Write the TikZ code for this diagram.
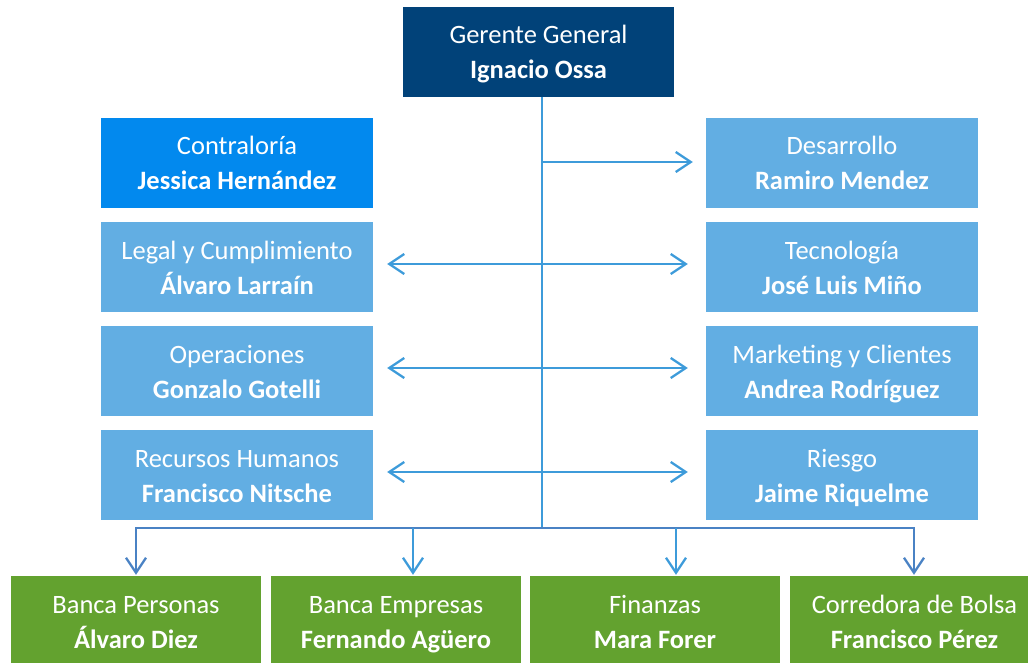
\documentclass[tikz,border=0pt]{standalone}
\usepackage{fontspec}
\setmainfont{Carlito}
\usetikzlibrary{arrows.meta}
\definecolor{navy}{RGB}{1,66,121}
\definecolor{bright}{RGB}{2,137,238}
\definecolor{light}{RGB}{98,174,227}
\definecolor{grn}{RGB}{99,162,47}
\definecolor{ln}{RGB}{61,155,218}
\definecolor{bus}{RGB}{74,130,196}
\newcommand\twoline[2]{\rule{0pt}{25pt}#1\\\rule[-6pt]{0pt}{6pt}\textbf{#2}}
\tikzset{
  box/.style={inner sep=0pt, text=white, align=center, minimum height=90pt,
    font=\fontsize{26.5}{35}\selectfont},
  dept/.style={box, fill=light, minimum width=272pt},
  unit/.style={box, fill=grn, minimum width=250pt},
  conn/.style={draw=ln, line width=2.3pt},
  busline/.style={draw=bus, line width=2.3pt},
  tip/.style={-{Straight Barb[length=15pt,width=20pt,line width=2.3pt]}},
  tips/.style={{Straight Barb[length=15pt,width=20pt,line width=2.3pt]}-{Straight Barb[length=15pt,width=20pt,line width=2.3pt]}}
}
\begin{document}
\begin{tikzpicture}[x=1pt,y=-1pt]
\useasboundingbox (0,0) rectangle (1028,663);
% top
\node[box, fill=navy, minimum width=271pt] (gg) at (538.5,52) {\twoline{Gerente General}{Ignacio Ossa}};
% left column
\node[box, fill=bright, minimum width=272pt] (con) at (237,163) {\twoline{Contraloría}{Jessica Hernández}};
\node[dept] (leg) at (237,267) {\twoline{Legal y Cumplimiento}{Álvaro Larraín}};
\node[dept] (ope) at (237,371) {\twoline{Operaciones}{Gonzalo Gotelli}};
\node[dept] (rrh) at (237,475) {\twoline{Recursos Humanos}{Francisco Nitsche}};
% right column
\node[dept] (des) at (842,163) {\twoline{Desarrollo}{Ramiro Mendez}};
\node[dept] (tec) at (842,267) {\twoline{Tecnología}{José Luis Miño}};
\node[dept] (mkt) at (842,371) {\twoline{Marketing y Clientes}{Andrea Rodríguez}};
\node[dept] (rie) at (842,475) {\twoline{Riesgo}{Jaime Riquelme}};
% bottom
\node[unit] (bp) at (136,621) {\twoline{Banca Personas}{Álvaro Diez}};
\node[unit] (be) at (396,621) {\twoline{Banca Empresas}{Fernando Agüero}};
\node[unit] (fin) at (655,621) {\twoline{Finanzas}{Mara Forer}};
\node[unit] (cb) at (914.5,621) {\twoline{Corredora de Bolsa}{Francisco Pérez}};
% spine
\coordinate (s0) at (542,97);
\coordinate (s1) at (542,528);
\coordinate (bl) at (136,528);
\coordinate (br) at (914,528);
\coordinate (b2) at (413,528);
\coordinate (b3) at (676,528);
\draw[conn] (s0) -- (s1);
\draw[conn, tip, shorten >=13pt] (542,162) -- ([yshift=1pt]des.west);
\draw[conn, tips, shorten <=14pt, shorten >=18pt] ([yshift=3pt]leg.east) -- ([yshift=3pt]tec.west);
\draw[conn, tips, shorten <=14pt, shorten >=18pt] ([yshift=3pt]ope.east) -- ([yshift=3pt]mkt.west);
\draw[conn, tips, shorten <=14pt, shorten >=18pt] ([yshift=3pt]rrh.east) -- ([yshift=3pt]rie.west);
% bus
\draw[busline, tip, shorten >=1pt] (s1) -- (bl) -- (bl |- bp.north);
\draw[busline, tip, shorten >=1pt] (s1) -- (br) -- (br |- cb.north);
\draw[conn, tip, shorten >=1pt] (b2) -- (b2 |- be.north);
\draw[conn, tip, shorten >=1pt] (b3) -- (b3 |- fin.north);
\end{tikzpicture}
\end{document}
